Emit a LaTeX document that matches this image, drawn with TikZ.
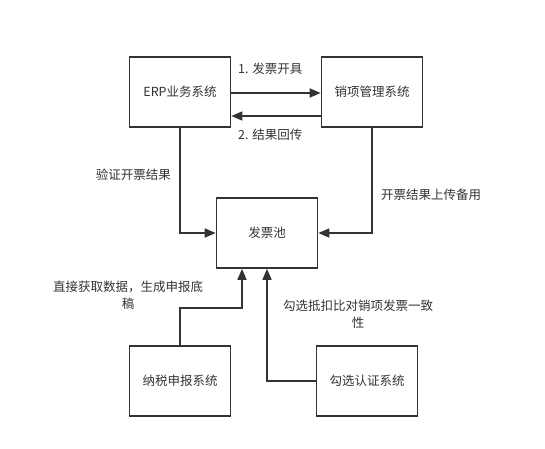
\documentclass[tikz,border=0pt]{standalone}
\usepackage{fontspec}
\setmainfont{Noto Sans CJK SC}
\usetikzlibrary{arrows.meta}
\definecolor{linegray}{HTML}{333333}
\begin{document}
\begin{tikzpicture}[
        x=1pt, y=-1pt,
        % 方框样式
        sysbox/.style={draw=linegray, line width=1.6pt, minimum width=101pt,
            minimum height=70pt, inner sep=0pt, text=linegray,
            font=\fontsize{12.5}{15}\selectfont},
        % 连线样式
        flow/.style={draw=linegray, line width=1.6pt,
            -{Triangle[length=11pt,width=9pt]}},
        lbl/.style={text=linegray, font=\fontsize{12.5}{17}\selectfont, inner sep=0pt}
    ]
    % 固定画布大小
    \useasboundingbox (0,0) rectangle (545,448);

    % --- 方框 ---
    \node[sysbox] (erp)  at (180,92)  {ERP业务系统};
    \node[sysbox] (xx)   at (372,92)  {销项管理系统};
    \node[sysbox] (pool) at (267,233) {发票池};
    \node[sysbox] (ns)   at (180,381) {纳税申报系统};
    \node[sysbox] (gx)   at (367,381) {勾选认证系统};

    % --- 折点 ---
    \coordinate (c1) at (180,233);
    \coordinate (c2) at (372,233);
    \coordinate (c3) at (180,308);
    \coordinate (c4) at (242,308);
    \coordinate (c5) at (267,381);

    % --- 上方两个系统之间 ---
    \draw[flow] ([yshift=-1pt]erp.east) -- ([yshift=-1pt]xx.west);
    \draw[flow] ([yshift=-24pt]xx.west) -- ([yshift=-24pt]erp.east);
    \node[lbl, anchor=west] at (238,69)  {1. 发票开具};
    \node[lbl, anchor=west] at (238,135) {2. 结果回传};

    % --- 流向发票池 ---
    \draw[flow] (erp.south) -- (c1) -- (pool.west);
    \draw[flow] (xx.south) -- (c2) -- (pool.east);
    \draw[flow] (ns.north) -- (c3) -- (c4) -- (c4 |- pool.south);
    \draw[flow] (gx.west) -- (c5) -- (pool.south);

    % --- 标注 ---
    \node[lbl, anchor=east] at (171,175) {验证开票结果};
    \node[lbl, anchor=west] at (381,195) {开票结果上传备用};
    \node[lbl, align=center] at (128,295) {直接获取数据，生成申报底\\稿};
    \node[lbl, align=center] at (358,314) {勾选抵扣比对销项发票一致\\性};

\end{tikzpicture}
\end{document}
